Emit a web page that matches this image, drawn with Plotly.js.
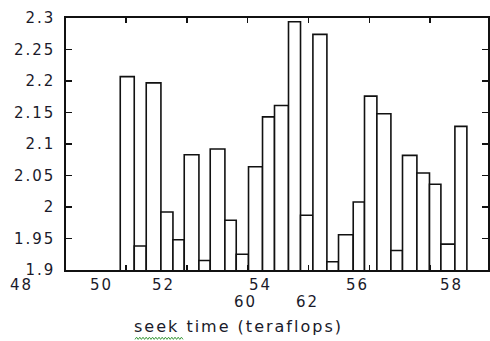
<!DOCTYPE html>
<html>
<head>
<meta charset="utf-8">
<script src="https://cdn.plot.ly/plotly-3.0.1.min.js"></script>
<style>
  html, body { margin: 0; padding: 0; background: #fff; }
  #chart { width: 490px; height: 341px; }
  .main-svg text { letter-spacing: 2px; }
</style>
</head>
<body>
<div id="chart"></div>
<script>
// ---- data ----
// bin edges along the seek-time axis (27 adjacent bars)
const binEdges = [49.813, 50.273, 50.667, 51.150, 51.545, 51.916, 52.399, 52.770, 53.253, 53.625,
                  54.029, 54.489, 54.883, 55.343, 55.738, 56.145, 56.605, 56.987, 57.470, 57.841,
                  58.248, 58.709, 59.090, 59.563, 59.977, 60.352, 60.812, 61.206];
const barValues = [2.207, 1.938, 2.197, 1.992, 1.948, 2.083, 1.915, 2.092, 1.979, 1.925,
                   2.064, 2.143, 2.161, 2.294, 1.987, 2.274, 1.913, 1.956, 2.008, 2.176,
                   2.148, 1.931, 2.082, 2.054, 2.036, 1.941, 2.128];
const yTickVals = [1.9, 1.95, 2.0, 2.05, 2.1, 2.15, 2.2, 2.25, 2.3];
const yTickText = ['1.9', '1.95', '2', '2.05', '2.1', '2.15', '2.2', '2.25', '2.3'];
const xTickVals = [50, 52, 54, 56, 58, 60];
const xLabelsRow1 = ['48', '50', '52', '54', '56', '58'];
const xLabelsRow2 = ['60', '62'];
const xTitle = 'seek time (teraflops)';

// ---- layout ----
const xRange = [48.03, 61.9];
const yRange = [1.9, 2.3];
// where the (misplaced) x labels sit, in axis units
const row1Pos = [46.576, 49.188, 51.226, 54.413, 57.601, 60.706];
const row2Pos = [53.92, 55.958];
const toPaper = u => (u - xRange[0]) / (xRange[1] - xRange[0]);

const xs = [], ws = [];
for (let i = 0; i < barValues.length; i++) {
  xs.push((binEdges[i] + binEdges[i + 1]) / 2);
  ws.push(binEdges[i + 1] - binEdges[i]);
}

const txtFont = { family: 'DejaVu Sans, Verdana, sans-serif', size: 15, color: '#1a1a2a' };

const annotations = [];
xLabelsRow1.forEach((t, i) => annotations.push({
  text: t, xref: 'paper', yref: 'paper', x: toPaper(row1Pos[i]), y: -0.0595,
  xanchor: 'center', yanchor: 'middle', showarrow: false, font: txtFont
}));
xLabelsRow2.forEach((t, i) => annotations.push({
  text: t, xref: 'paper', yref: 'paper', x: toPaper(row2Pos[i]), y: -0.125,
  xanchor: 'center', yanchor: 'middle', showarrow: false, font: txtFont
}));
annotations.push({
  text: xTitle, xref: 'paper', yref: 'paper', x: 0.409, y: -0.226,
  xanchor: 'center', yanchor: 'middle', showarrow: false,
  font: { family: 'DejaVu Sans, Verdana, sans-serif', size: 16, color: '#1a1a2a' }
});

// spell-check style wavy underline under the word "seek" (decoration)
const plotL = 66, plotW = 422, plotB = 270, plotH = 252;
const px2x = p => (p - plotL) / plotW, px2y = p => (plotB - p) / plotH;
let wave = '';
for (let k = 0, p = 135; p <= 183; k++, p += 1.6) {
  wave += (k === 0 ? 'M' : 'L') + px2x(p).toFixed(5) + ',' + px2y(k % 2 ? 337.2 : 339.4).toFixed(5);
}

const trace = {
  type: 'bar', x: xs, y: barValues, width: ws,
  marker: { color: '#ffffff', line: { color: '#111111', width: 1.6 } },
  hoverinfo: 'skip'
};

const layout = {
  width: 490, height: 341,
  margin: { l: 66, r: 2, t: 18, b: 71, pad: 0 },
  paper_bgcolor: '#ffffff', plot_bgcolor: '#ffffff',
  showlegend: false,
  xaxis: {
    range: xRange, tickvals: xTickVals, showticklabels: false,
    ticks: 'inside', ticklen: 5, tickwidth: 1.5, tickcolor: '#111',
    showline: true, linecolor: '#111', linewidth: 1.6, mirror: 'ticks',
    showgrid: false, zeroline: false, fixedrange: true
  },
  yaxis: {
    range: yRange, tickvals: yTickVals, ticktext: yTickText,
    ticks: 'inside', ticklen: 6, tickwidth: 1.5, tickcolor: '#111',
    ticklabelstandoff: 6,
    showline: true, linecolor: '#111', linewidth: 1.6, mirror: 'ticks',
    showgrid: false, zeroline: false, fixedrange: true,
    tickfont: txtFont
  },
  shapes: [{
    type: 'path', xref: 'paper', yref: 'paper', path: wave,
    line: { color: '#3c9a3c', width: 1 }
  }],
  annotations: annotations
};

Plotly.newPlot('chart', [trace], layout, { displayModeBar: false, staticPlot: true });
</script>
</body>
</html>
